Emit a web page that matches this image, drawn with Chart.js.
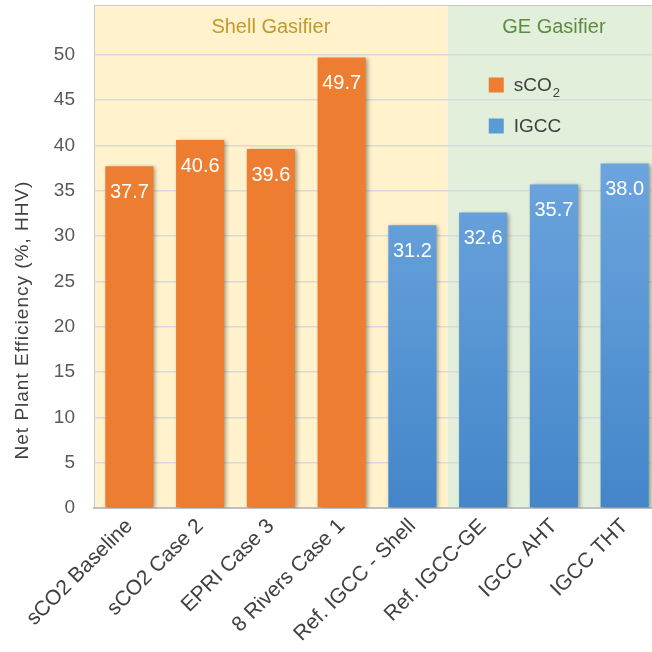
<!DOCTYPE html>
<html lang="en">

<head>
    <meta charset="UTF-8">
    <title>Net Plant Efficiency</title>
    <script src="https://cdn.jsdelivr.net/npm/chart.js"></script>
    <style>
        html,
        body {
            margin: 0;
            padding: 0;
            background: #ffffff;
            overflow: hidden;
        }

        #wrap {
            width: 660px;
            height: 652px;
            position: relative;
        }
    </style>
</head>

<body>
    <div id="wrap"><canvas id="effChart"></canvas></div>

    <script>
        // data
        const categories = ['sCO2 Baseline', 'sCO2 Case 2', 'EPRI Case 3', '8 Rivers Case 1',
            'Ref. IGCC - Shell', 'Ref. IGCC-GE', 'IGCC AHT', 'IGCC THT'];
        const sco2Values = [37.7, 40.6, 39.6, 49.7, null, null, null, null];
        const igccValues = [null, null, null, null, 31.2, 32.6, 35.7, 38.0];
        const yTicks = [0, 5, 10, 15, 20, 25, 30, 35, 40, 45, 50];
        const groupNames = ['Shell Gasifier', 'GE Gasifier'];
        const groupFirst = [0, 5];
        const groupLast = [4, 7];

        const FONT = "'Liberation Sans', Arial, sans-serif";
        const groupFill = ['#FFF2CC', '#E2EFDA'];
        const groupText = ['#BF9A2C', '#5B8D3F'];
        const orange = '#ED7D31';

        function blueFill(c) {
            const chart = c.chart;
            const area = chart.chartArea;
            if (!area) return '#5B9BD5';
            const top = chart.scales.y.getPixelForValue(40);
            const g = chart.ctx.createLinearGradient(0, top, 0, area.bottom);
            g.addColorStop(0, '#6EA6DF');
            g.addColorStop(1, '#4386C9');
            return g;
        }

        const backdrop = {
            id: 'backdrop',
            beforeDraw(chart) {
                const ctx = chart.ctx;
                const area = chart.chartArea;
                const x = chart.scales.x;
                ctx.save();
                for (let i = 0; i < groupNames.length; i++) {
                    const left = x.getPixelForValue(groupFirst[i] - 0.5);
                    const right = x.getPixelForValue(groupLast[i] + 0.5);
                    ctx.fillStyle = groupFill[i];
                    ctx.fillRect(left, area.top, right - left, area.bottom - area.top);
                    ctx.fillStyle = groupText[i];
                    ctx.font = '20px ' + FONT;
                    ctx.textAlign = 'center';
                    ctx.textBaseline = 'middle';
                    ctx.fillText(groupNames[i], x.getPixelForValue((groupFirst[i] + groupLast[i]) / 2), area.top + 22);
                }
                ctx.strokeStyle = '#C9C9C9';
                ctx.lineWidth = 1;
                ctx.beginPath();
                ctx.moveTo(area.left + 0.5, area.bottom);
                ctx.lineTo(area.left + 0.5, area.top + 0.5);
                ctx.lineTo(area.right, area.top + 0.5);
                ctx.stroke();
                ctx.restore();
            }
        };

        const barExtras = {
            id: 'barExtras',
            beforeDatasetsDraw(chart) {
                const ctx = chart.ctx;
                ctx.save();
                ctx.shadowColor = 'rgba(0,0,0,0.35)';
                ctx.shadowBlur = 4;
                ctx.shadowOffsetX = 2;
                ctx.shadowOffsetY = 1;
            },
            afterDatasetsDraw(chart) {
                const ctx = chart.ctx;
                ctx.restore();
                ctx.save();
                ctx.fillStyle = '#ffffff';
                ctx.font = '20px ' + FONT;
                ctx.textAlign = 'center';
                ctx.textBaseline = 'middle';
                chart.data.datasets.forEach((ds, di) => {
                    chart.getDatasetMeta(di).data.forEach((bar, i) => {
                        if (ds.data[i] === null) return;
                        ctx.fillText(ds.data[i].toFixed(1), bar.x, bar.y + 26);
                    });
                });
                ctx.restore();
            },
            afterDraw(chart) {
                const ctx = chart.ctx;
                const area = chart.chartArea;
                const x = chart.scales.x;
                ctx.save();
                // legend inside the plot
                const lx = x.getPixelForValue(4.5) + 41;
                const swatch = [orange, '#5B9BD5'];
                chart.data.datasets.forEach((ds, di) => {
                    const cy = area.top + 80 + di * 41;
                    ctx.fillStyle = swatch[di];
                    ctx.fillRect(lx, cy - 7.5, 15, 15);
                    ctx.fillStyle = '#404040';
                    ctx.font = '19px ' + FONT;
                    ctx.textAlign = 'left';
                    ctx.textBaseline = 'middle';
                    const m = ds.label.match(/^(.*?)(\d)$/);
                    const main = m ? m[1] : ds.label;
                    ctx.fillText(main, lx + 25, cy + 1);
                    if (m) {
                        const w = ctx.measureText(main).width;
                        ctx.font = '13px ' + FONT;
                        ctx.fillText(m[2], lx + 25 + w + 1, cy + 8);
                    }
                });
                // y axis title
                ctx.translate(23, chart.height / 2 - 6);
                ctx.rotate(-Math.PI / 2);
                ctx.fillStyle = '#404040';
                ctx.font = '19px ' + FONT;
                ctx.letterSpacing = '1px';
                ctx.textAlign = 'center';
                ctx.textBaseline = 'middle';
                ctx.fillText('Net Plant Efficiency (%, HHV)', 0, 0);
                ctx.restore();
            }
        };

        Chart.defaults.font.family = FONT;

        const ctx = document.getElementById('effChart').getContext('2d');
        const effChart = new Chart(ctx, {
            type: 'bar',
            data: {
                labels: categories,
                datasets: [{
                    label: 'sCO2',
                    data: sco2Values,
                    backgroundColor: orange,
                    barPercentage: 0.68,
                    categoryPercentage: 1,
                    grouped: false
                }, {
                    label: 'IGCC',
                    data: igccValues,
                    backgroundColor: blueFill,
                    barPercentage: 0.68,
                    categoryPercentage: 1,
                    grouped: false
                }]
            },
            options: {
                responsive: true,
                maintainAspectRatio: false,
                animation: false,
                layout: { padding: { top: 5, left: 0, right: 0, bottom: 0 } },
                plugins: {
                    legend: { display: false },
                    tooltip: { enabled: false }
                },
                scales: {
                    x: {
                        grid: { display: false, drawTicks: false },
                        border: { color: '#BFBFBF', width: 2 },
                        ticks: {
                            color: '#404040',
                            font: { size: 21 },
                            minRotation: 45,
                            maxRotation: 45,
                            padding: 6,
                            autoSkip: false
                        },
                        afterFit(scale) { scale.height = 144; }
                    },
                    y: {
                        min: 0,
                        max: 55.5,
                        afterBuildTicks(scale) {
                            scale.ticks = yTicks.map(v => ({ value: v }));
                        },
                        grid: { color: '#D9D9D9', lineWidth: 1.5, drawTicks: false },
                        border: { display: false },
                        ticks: {
                            color: '#595959',
                            font: { size: 19 },
                            padding: 19
                        },
                        afterFit(scale) {
                            scale.width = 94;
                            scale.paddingTop = 0;
                            scale.paddingBottom = 0;
                        }
                    }
                }
            },
            plugins: [backdrop, barExtras]
        });
    </script>
</body>

</html>
